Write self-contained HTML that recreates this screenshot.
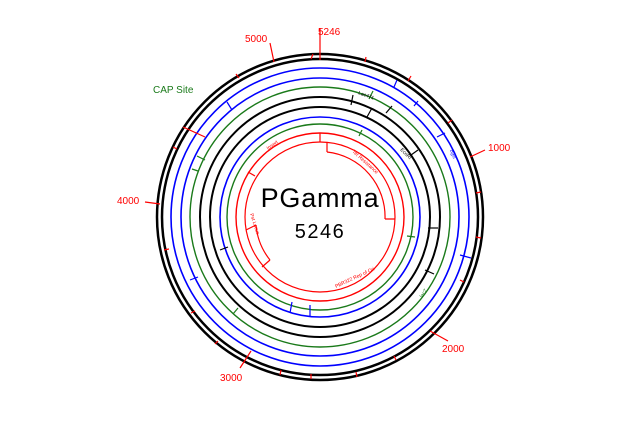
<!DOCTYPE html>
<html><head><meta charset="utf-8"><style>
html,body{margin:0;padding:0;background:#fff;width:640px;height:428px;overflow:hidden}
svg{display:block}
text{font-family:"Liberation Sans",sans-serif}
</style></head><body>
<svg width="640" height="428" viewBox="0 0 640 428" xmlns="http://www.w3.org/2000/svg">
<g fill="none">
<circle cx="320" cy="217" r="163" stroke="#000" stroke-width="2.5"/>
<circle cx="320" cy="217" r="158" stroke="#000" stroke-width="2.5"/>
<circle cx="320" cy="217" r="149" stroke="#00f" stroke-width="1.6"/>
<circle cx="320" cy="217" r="139" stroke="#00f" stroke-width="1.6"/>
<circle cx="320" cy="217" r="130" stroke="#1a7a1a" stroke-width="1.4"/>
<circle cx="320" cy="217" r="120" stroke="#000" stroke-width="2"/>
<circle cx="320" cy="217" r="110" stroke="#000" stroke-width="2"/>
<circle cx="320" cy="217" r="100" stroke="#00f" stroke-width="1.6"/>
<circle cx="320" cy="217" r="93" stroke="#1a7a1a" stroke-width="1.4"/>
<circle cx="320" cy="217" r="84" stroke="#f00" stroke-width="1.4"/>
<circle cx="320" cy="217" r="75" stroke="#f00" stroke-width="1.2"/>
<!-- red inner feature arcs -->
<path d="M327 152 A65 65 0 0 1 385 219" stroke="#f00" stroke-width="1.2"/>
<path d="M327 142 L327 152 M385 219 L395 219" stroke="#f00" stroke-width="1.2"/>
<path d="M256 225 A65 65 0 0 0 270 260" stroke="#f00" stroke-width="1.2"/>
<path d="M246 230 L256 225 M270 260 L262 267" stroke="#f00" stroke-width="1.2"/>
<path d="M320 133 L320 142 M248 172 L255 176" stroke="#f00" stroke-width="1.2"/>
</g>
<!-- ticks -->
<g stroke="#f00" stroke-width="1.2">
<line x1="320" y1="28" x2="320" y2="60"/>
<line x1="313" y1="54" x2="311" y2="59"/>
<line x1="366" y1="57" x2="365" y2="62"/>
<line x1="411" y1="76" x2="408" y2="81"/>
<line x1="452" y1="120" x2="448" y2="123"/>
<line x1="481" y1="192" x2="476" y2="193"/>
<line x1="481" y1="238" x2="476" y2="237"/>
<line x1="464" y1="282" x2="460" y2="280"/>
<line x1="396" y1="360" x2="394" y2="356"/>
<line x1="357" y1="377" x2="356" y2="372"/>
<line x1="311" y1="379" x2="311" y2="374"/>
<line x1="280" y1="375" x2="281" y2="370"/>
<line x1="215" y1="344" x2="218" y2="341"/>
<line x1="191" y1="313" x2="195" y2="311"/>
<line x1="164" y1="250" x2="169" y2="249"/>
<line x1="173" y1="147" x2="177" y2="149"/>
<line x1="183" y1="127" x2="205" y2="137"/>
<line x1="236" y1="74" x2="239" y2="78"/>
<line x1="270" y1="43" x2="274" y2="62"/>
<line x1="485" y1="150" x2="470" y2="157"/>
<line x1="145" y1="202" x2="160" y2="204"/>
<line x1="448" y1="341" x2="430" y2="331"/>
<line x1="240" y1="368" x2="251" y2="351"/>
</g>
<!-- misc feature ticks -->
<g stroke="#00f" stroke-width="1.2">
<line x1="227" y1="102" x2="232" y2="110"/><line x1="418" y1="101" x2="414" y2="106"/>
<line x1="445" y1="133" x2="437" y2="137"/><line x1="460" y1="255" x2="471" y2="258"/>
<line x1="190" y1="280" x2="198" y2="277"/><line x1="310" y1="305" x2="310" y2="316"/>
<line x1="292" y1="302" x2="290" y2="313"/><line x1="397" y1="80" x2="394" y2="87"/>
</g>
<g stroke="#1a7a1a" stroke-width="1.2">
<line x1="197" y1="156" x2="205" y2="160"/><line x1="192" y1="169" x2="198" y2="171"/>
<line x1="373" y1="91" x2="369" y2="99"/><line x1="362" y1="130" x2="359" y2="136"/>
<line x1="233" y1="314" x2="238" y2="308"/><line x1="407" y1="236" x2="415" y2="237"/>
</g>
<g stroke="#000" stroke-width="1.2">
<line x1="353" y1="95" x2="351" y2="105"/><line x1="392" y1="106" x2="386" y2="113"/>
<line x1="372" y1="108" x2="367" y2="117"/><line x1="418" y1="150" x2="411" y2="155"/>
<line x1="220" y1="250" x2="228" y2="247"/><line x1="428" y1="228" x2="438" y2="228"/>
<line x1="425" y1="270" x2="434" y2="274"/>
</g>
<!-- labels -->
<g font-size="10" fill="#f00">
<text x="318" y="35">5246</text>
<text x="245" y="42">5000</text>
<text x="488" y="151">1000</text>
<text x="117" y="204">4000</text>
<text x="442" y="352">2000</text>
<text x="220" y="381">3000</text>
</g>
<text x="153" y="93" font-size="10" fill="#1a7a1a">CAP Site</text>
<text x="320" y="207" font-size="27" text-anchor="middle" fill="#000" letter-spacing="0.8">PGamma</text>
<text x="320" y="238" font-size="20" text-anchor="middle" fill="#000" letter-spacing="1.5">5246</text>
<g font-size="5" fill="#f00">
<text x="0" y="0" transform="translate(268,150) rotate(-35)">Insert</text>
<text x="0" y="0" transform="translate(352,152) rotate(42)">Tet Resistance</text>
<text x="0" y="0" transform="translate(250,214) rotate(72)">Pst Locus</text>
<text x="0" y="0" transform="translate(336,288) rotate(-25)">PBR322 Rep of Ori</text>
</g>
<g font-size="5" fill="#000">
<text transform="translate(358,94) rotate(20)">Lac471</text>
<text transform="translate(400,150) rotate(45)">EcoRI</text>
</g>
<g font-size="5" fill="#00f"><text transform="translate(450,150) rotate(70)">Bglll</text></g>
<g font-size="5" fill="#1a7a1a"><text transform="translate(422,298) rotate(-55)">lacZ</text></g>
</svg>
</body></html>
